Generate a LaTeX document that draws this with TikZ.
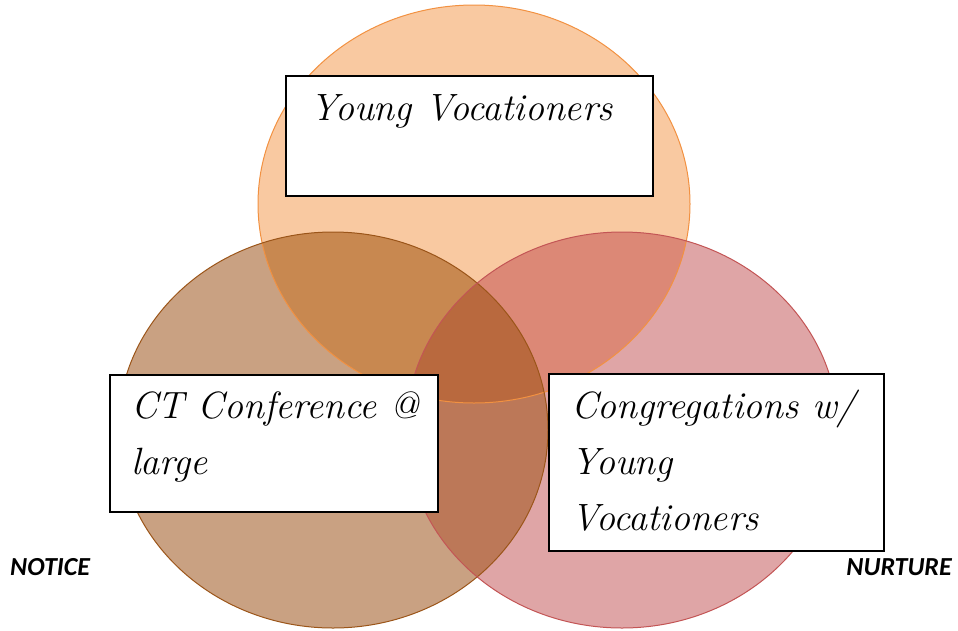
\documentclass[tikz,border=0pt]{standalone}
\usepackage{fontspec}
\newfontfamily\tagfont{Carlito}
\usetikzlibrary{positioning}

\definecolor{vocfill}{RGB}{249,201,161}
\definecolor{vocline}{RGB}{242,145,65}
\definecolor{ctfill}{RGB}{201,161,130}
\definecolor{ctline}{RGB}{155,85,25}
\definecolor{congfill}{RGB}{223,165,166}
\definecolor{congline}{RGB}{195,85,85}
\definecolor{vocct}{RGB}{200,136,80}
\definecolor{voccong}{RGB}{220,136,118}
\definecolor{ctcong}{RGB}{188,120,88}
\definecolor{allthree}{RGB}{185,105,62}

\tikzset{
  box/.style = {shape=rectangle, draw, fill=white, line width=1.5pt, anchor=north west, inner sep=0pt},
  boxtext/.style = {anchor=north west, align=left, inner sep=0pt,
    font=\fontsize{38}{56}\selectfont\itshape},
  tag/.style = {font=\fontsize{26}{30}\selectfont\tagfont\bfseries\itshape, inner sep=0pt}
}
\newcommand{\vocpath}{(474,204) ellipse (216 and 199)}
\newcommand{\ctpath}{(333,430) ellipse (215 and 198)}
\newcommand{\congpath}{(622,430) ellipse (216 and 198)}

\begin{document}
\begin{tikzpicture}[x=1pt, y=-1pt]
  \useasboundingbox (0,0) rectangle (958,630);
  % the three circles
  \fill[vocfill] \vocpath;
  \fill[ctfill] \ctpath;
  \fill[congfill] \congpath;
  % overlaps
  \begin{scope}
    \clip \vocpath;
    \fill[vocct] \ctpath;
    \fill[voccong] \congpath;
  \end{scope}
  \begin{scope}
    \clip \ctpath;
    \fill[ctcong] \congpath;
    \clip \congpath;
    \fill[allthree] \vocpath;
  \end{scope}
  % outlines
  \draw[vocline, line width=1pt] \vocpath;
  \draw[ctline, line width=1pt] \ctpath;
  \draw[congline, line width=1pt] \congpath;
  % boxes
  \node[box, minimum width=367, minimum height=120] (ybox) at (285,75) {};
  \node[boxtext] (ytext) at (310,94) {Young Vocationers};
  \node[box, minimum width=328, minimum height=137] (cbox) at (109,374) {};
  \node[boxtext] (ctext) at (131,392) {CT Conference @\\large};
  \node[box, minimum width=335, minimum height=177] (gbox) at (548,373) {};
  \node[boxtext] (gtext) at (571,390) {Congregations w/\\Young\\Vocationers};
  % side labels
  \node[tag, anchor=west] (notice) at (10,567) {NOTICE};
  \node[tag, anchor=east] (nurture) at (952,567) {NURTURE};
\end{tikzpicture}
\end{document}
